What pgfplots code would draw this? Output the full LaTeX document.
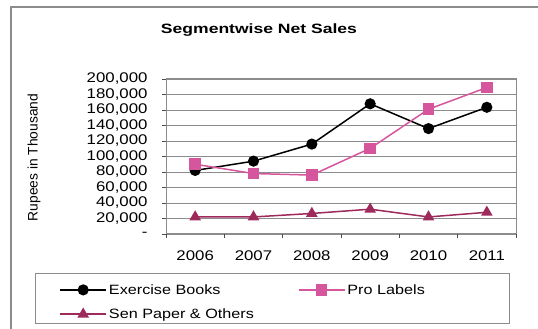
\documentclass[border=0pt]{standalone}
\usepackage{fontspec}
\setmainfont[FakeStretch=1.2]{Liberation Sans}
\newfontfamily\titlefont[FakeStretch=1.3]{Liberation Sans}
\newfontfamily\plainfont{Liberation Sans}
\usepackage{pgfplots}
\pgfplotsset{compat=1.18}
\definecolor{prolab}{RGB}{214,86,158}
\definecolor{senp}{RGB}{158,42,92}
\definecolor{gridc}{RGB}{140,140,140}
\definecolor{framec}{RGB}{140,140,140}

\begin{document}
\begin{tikzpicture}
\path[use as bounding box] (0pt,0pt) rectangle (538pt,329pt);
\draw[framec, line width=1.2pt] (11pt,0pt) -- (11pt,322pt) -- (538pt,322pt);
\draw[framec, line width=1pt] (35pt,5pt) rectangle (509pt,55pt);
\node[font=\titlefont\bfseries\fontsize{13.5}{15}\selectfont] at (259pt,299pt) {Segmentwise Net Sales};
\node[rotate=90, font=\plainfont\fontsize{13.8}{15}\selectfont] at (34pt,171.5pt) {Rupees in Thousand};
\begin{axis}[
  at={(166pt,95pt)}, anchor=south west, scale only axis,
  width=350pt, height=155pt,
  xmin=-0.5, xmax=5.5, ymin=0, ymax=200000,
  xtick={0,...,5},
  xticklabels={2006,2007,2008,2009,2010,2011},
  major x tick style={draw=none},
  minor xtick={-0.5,0.5,...,5.5},
  ytick={0,20000,...,200000},
  yticklabels={{-\hspace{19pt}},{20,000},{40,000},{60,000},{80,000},{100,000},{120,000},{140,000},{160,000},{180,000},{200,000}},
  scaled y ticks=false,
  xtick pos=bottom, ytick pos=left,
  tick align=outside,
  major tick length=4pt, minor tick length=4pt,
  tick style={black!70, line width=0.8pt},
  ymajorgrids,
  grid style={gridc, line width=0.8pt},
  axis line style={framec, line width=1pt},
  ticklabel style={font=\fontsize{14}{16}\selectfont},
  xticklabel style={yshift=-9pt},
  yticklabel style={xshift=-11pt},
  legend columns=2,
  legend cell align=left,
  legend image code/.code={\draw[mark repeat=2,mark phase=2] plot coordinates {(0pt,0pt) (23pt,0pt) (46pt,0pt)};},
  legend style={draw=none, fill=none, inner sep=0pt,
    at={(-0.305,-0.31)}, anchor=north west,
    font=\fontsize{13.5}{15}\selectfont,
    /tikz/every even column/.append style={column sep=42pt},
    row sep=9pt},
]
\addplot[black, line width=1.5pt, mark=*, mark size=4.8pt, mark options={solid}]
  coordinates {(0,82000) (1,94000) (2,116000) (3,168000) (4,136000) (5,163500)};
\addlegendentry{Exercise Books}
\addplot[prolab, line width=1.5pt, mark=square*, mark size=5pt]
  coordinates {(0,90000) (1,78000) (2,76000) (3,110500) (4,161000) (5,189000)};
\addlegendentry{Pro Labels}
\addplot[senp, line width=1.5pt, mark=triangle*, mark size=5.2pt]
  coordinates {(0,22000) (1,22000) (2,26500) (3,32000) (4,22000) (5,28000)};
\addlegendentry{Sen Paper \& Others}
\end{axis}
\end{tikzpicture}
\end{document}
